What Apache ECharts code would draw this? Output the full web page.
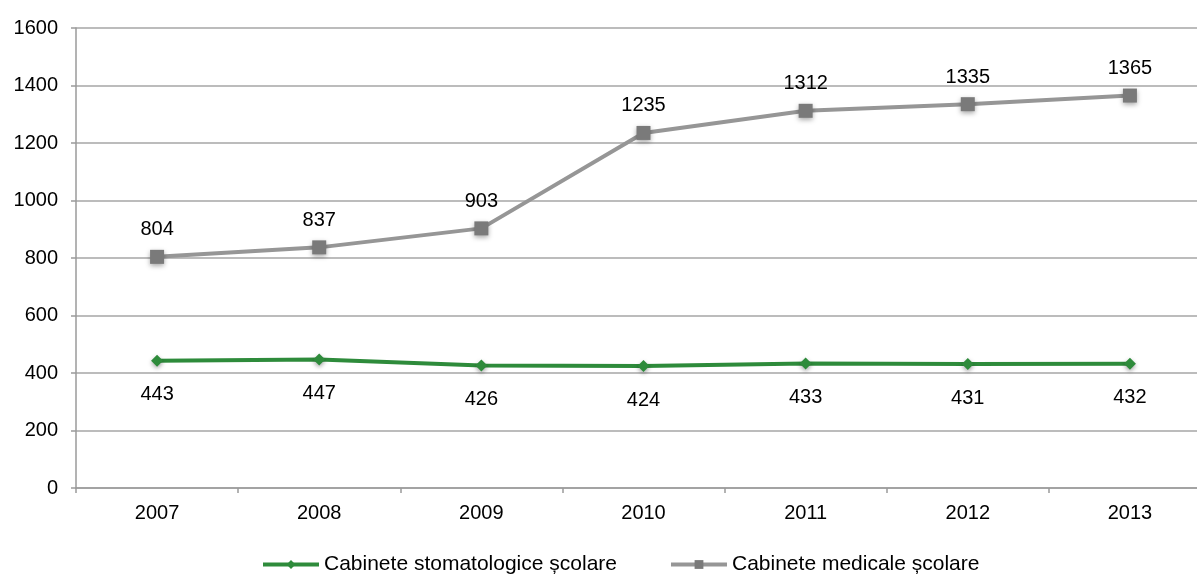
<!DOCTYPE html>
<html>
<head>
<meta charset="utf-8">
<script src="https://cdn.jsdelivr.net/npm/echarts@6/dist/echarts.min.js"></script>
<style>
html,body{margin:0;padding:0;background:#fff;overflow:hidden;}
/* the plot area runs a little past the right edge of the window */
#chart{width:1211px;height:575px;}
</style>
</head>
<body>
<div id="chart"></div>
<script>
// Years on the category axis
const years = ['2007', '2008', '2009', '2010', '2011', '2012', '2013'];
// School dental offices
const stomatologice = [443, 447, 426, 424, 433, 431, 432];
// School medical offices
const medicale = [804, 837, 903, 1235, 1312, 1335, 1365];
const seriesNames = ['Cabinete stomatologice școlare', 'Cabinete medicale școlare'];

const FONT = '"Liberation Sans", Arial, sans-serif';
const chart = echarts.init(document.getElementById('chart'), null, { renderer: 'canvas' });

chart.setOption({
  animation: false,
  textStyle: { fontFamily: FONT },
  grid: { left: 76, right: 0, top: 28, bottom: 87 },
  legend: {
    top: 549,
    left: 256,
    itemWidth: 56,
    itemHeight: 11,
    itemGap: 52,
    lineStyle: { width: 4 },
    textStyle: { fontSize: 21, color: '#000', fontFamily: FONT },
    data: seriesNames
  },
  xAxis: {
    type: 'category',
    data: years,
    boundaryGap: true,
    axisLine: { lineStyle: { color: '#9a9a9a', width: 1.5 } },
    axisTick: { show: true, length: 5, lineStyle: { color: '#9a9a9a', width: 1.5 } },
    axisLabel: { fontSize: 20, color: '#000', margin: 15, fontFamily: FONT }
  },
  yAxis: {
    type: 'value',
    min: 0,
    max: 1600,
    interval: 200,
    axisLine: { show: true, lineStyle: { color: '#9a9a9a', width: 1.5 } },
    axisTick: { show: true, length: 5, lineStyle: { color: '#9a9a9a', width: 1.5 } },
    splitLine: { lineStyle: { color: '#a6a6a6', width: 1.5 } },
    axisLabel: { fontSize: 20, color: '#000', margin: 18, fontFamily: FONT, formatter: v => String(v) }
  },
  series: [
    {
      name: seriesNames[0],
      type: 'line',
      data: stomatologice,
      symbol: 'diamond',
      symbolSize: 12,
      lineStyle: { color: '#2e8b3b', width: 4 },
      itemStyle: { color: '#2e8b3b', shadowBlur: 4, shadowColor: 'rgba(0,0,0,0.35)', shadowOffsetY: 2 },
      label: {
        show: true, position: 'bottom', distance: 18,
        fontSize: 20, color: '#000', fontFamily: FONT
      },
      z: 3
    },
    {
      name: seriesNames[1],
      type: 'line',
      data: medicale,
      symbol: 'rect',
      symbolSize: 14,
      lineStyle: { color: '#969696', width: 4 },
      itemStyle: { color: '#7a7a7a', shadowBlur: 5, shadowColor: 'rgba(0,0,0,0.35)', shadowOffsetY: 2 },
      label: {
        show: true, position: 'top', distance: 10,
        fontSize: 20, color: '#000', fontFamily: FONT
      },
      z: 2
    }
  ]
});
</script>
</body>
</html>
